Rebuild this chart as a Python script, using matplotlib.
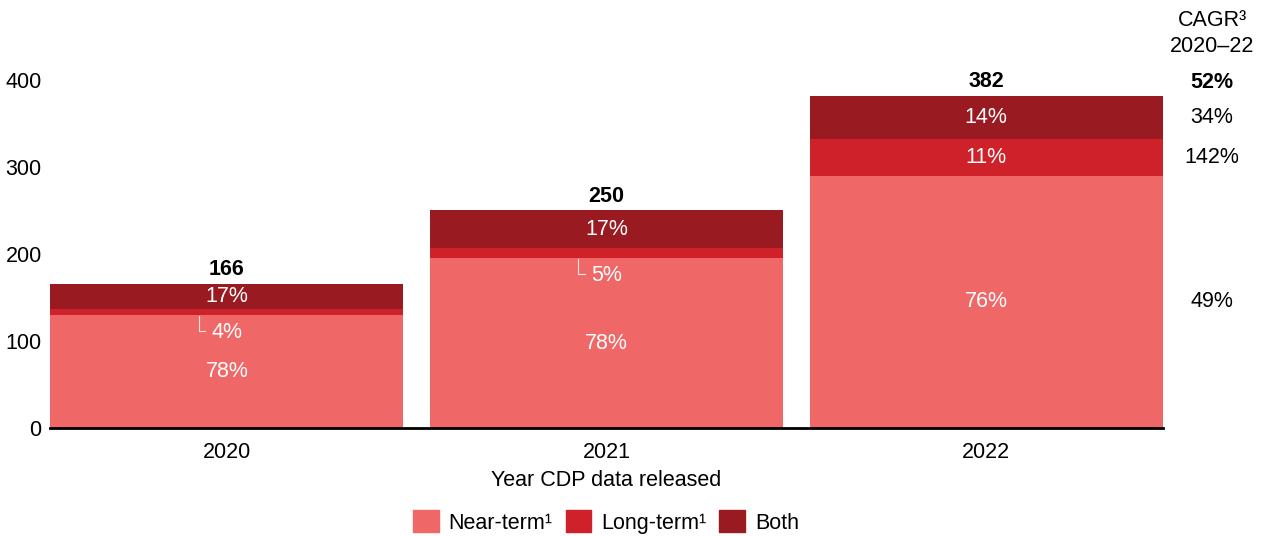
import numpy as np
import matplotlib.pyplot as plt
from matplotlib.patches import Patch
from matplotlib.transforms import blended_transform_factory

plt.rcParams['font.family'] = ['Liberation Sans', 'DejaVu Sans']

years = ['2020', '2021', '2022']
near_term = [130, 195, 290]
long_term = [7, 12, 42]
both = [29, 43, 50]
totals = [166, 250, 382]
near_pct = ['78%', '78%', '76%']
long_pct = ['4%', '5%', '11%']
both_pct = ['17%', '17%', '14%']
cagr_total = '52%'
cagr_rows = ['34%', '142%', '49%']

c_near = '#F06767'
c_long = '#CF2129'
c_both = '#991B21'
fs = 15.5

fig = plt.figure(figsize=(12.64, 5.36), dpi=100)
ax = fig.add_axes([50 / 1264, 108 / 536, (1163 - 50) / 1264, (428 - 80) / 536])

x = np.arange(len(years))
w = 0.93
near = np.array(near_term)
lng = np.array(long_term)
bth = np.array(both)
ax.bar(x, near, w, color=c_near, linewidth=0)
ax.bar(x, lng, w, bottom=near, color=c_long, linewidth=0)
ax.bar(x, bth, w, bottom=near + lng, color=c_both, linewidth=0)

ax.set_xlim(-0.466, 2.466)
ax.set_ylim(0, 400)
ax.set_yticks([0, 100, 200, 300, 400])
ax.tick_params(axis='both', length=0, labelsize=fs)
ax.tick_params(axis='y', pad=6)
ax.tick_params(axis='x', pad=10)
ax.set_xticks(x)
ax.set_xticklabels(years)
for s in ['top', 'right', 'left']:
    ax.spines[s].set_visible(False)
ax.spines['bottom'].set_linewidth(2)
ax.set_xlabel('Year CDP data released', fontsize=fs, labelpad=5)

for i in range(len(years)):
    ax.text(x[i], near[i] / 2, near_pct[i], ha='center', va='center', color='white', fontsize=fs)
    ax.text(x[i], near[i] + lng[i] + bth[i] / 2, both_pct[i], ha='center', va='center', color='white', fontsize=fs)
    ax.text(x[i], totals[i] + 4, str(totals[i]), ha='center', va='bottom', fontweight='bold', fontsize=fs)
    if lng[i] > 20:
        ax.text(x[i], near[i] + lng[i] / 2, long_pct[i], ha='center', va='center', color='white', fontsize=fs)
    else:
        ly = near[i] - 20
        ax.text(x[i], ly, long_pct[i], ha='center', va='center', color='white', fontsize=fs)
        ax.plot([x[i] - 0.074, x[i] - 0.074, x[i] - 0.057], [near[i] - 1, ly + 2, ly + 2],
                color='white', lw=0.8, alpha=0.85)

# CAGR column
cx = 1212 / 1264
fig.text(cx, 1 - 20 / 536, 'CAGR³', ha='center', va='center', fontsize=fs)
fig.text(cx, 1 - 47 / 536, '2020–22', ha='center', va='center', fontsize=fs)
fig.text(cx, 1 - 82 / 536, cagr_total, ha='center', va='center', fontsize=fs, fontweight='bold')
cagr_y = [near[2] + lng[2] + bth[2] / 2, near[2] + lng[2] / 2, near[2] / 2]
tr = blended_transform_factory(fig.transFigure, ax.transData)
for v, yy in zip(cagr_rows, cagr_y):
    ax.text(cx, yy, v, ha='center', va='center', fontsize=fs, transform=tr)

handles = [Patch(color=c_near, label='Near-term¹'),
           Patch(color=c_long, label='Long-term¹'),
           Patch(color=c_both, label='Both')]
fig.legend(handles=handles, loc='center', bbox_to_anchor=(606 / 1264, 1 - 522 / 536), ncol=3,
           frameon=False, fontsize=fs, handlelength=1.2, handleheight=1.2, handletextpad=0.45,
           columnspacing=0.6)

fig.savefig('out.png', dpi=100)
